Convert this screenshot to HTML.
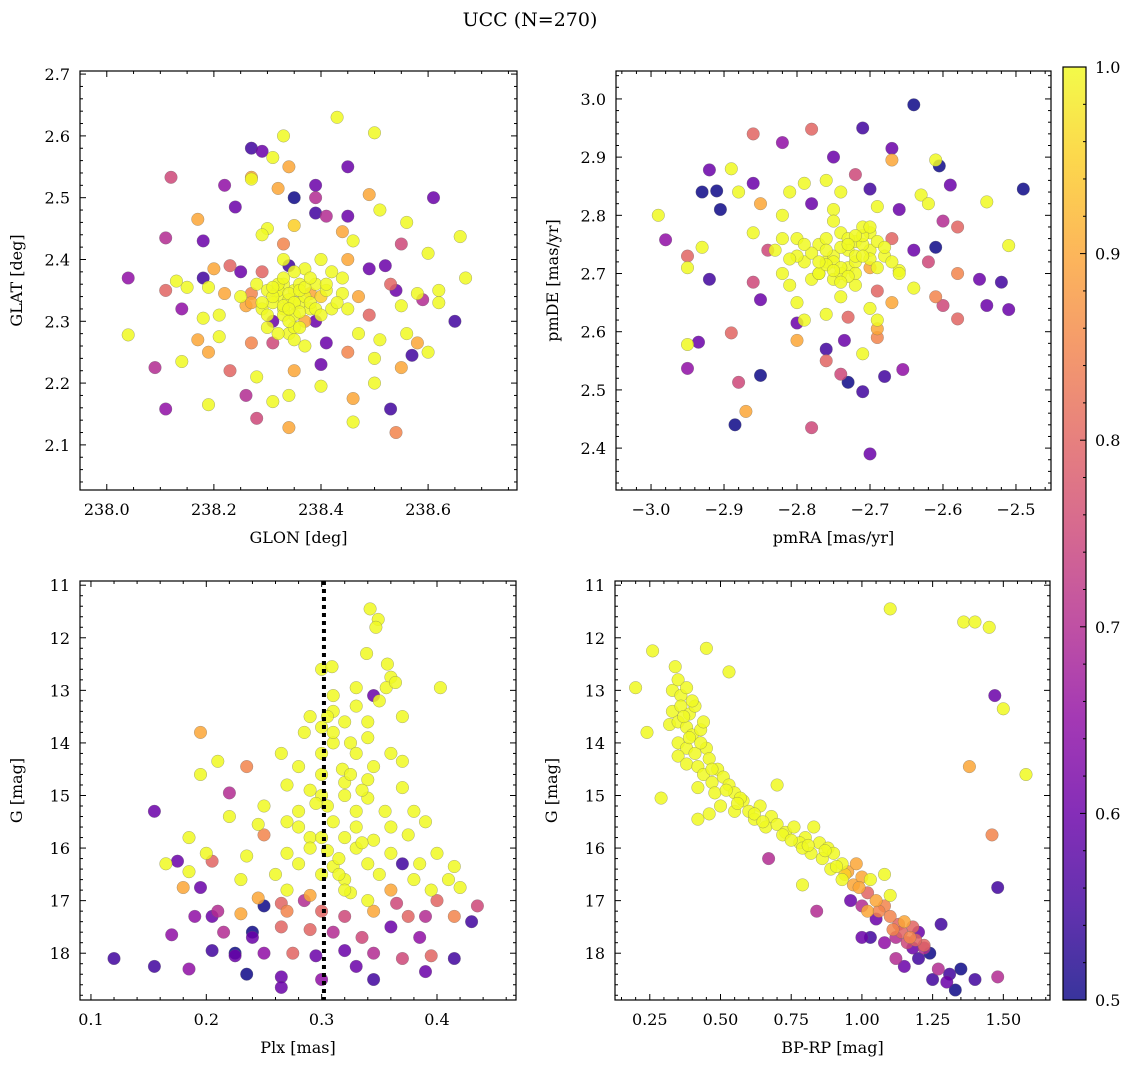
<!DOCTYPE html>
<html><head><meta charset="utf-8">
<style>
html,body{margin:0;padding:0;background:#fff;}
svg{display:block;font-family:"DejaVu Serif","Liberation Serif",serif;}
</style></head>
<body>
<svg id="fig" width="1136" height="1067" viewBox="0 0 1136 1067" xmlns="http://www.w3.org/2000/svg">
<text x="530" y="26" text-anchor="middle" font-size="19">UCC (N=270)</text>
<defs>
<linearGradient id="cbg" x1="0" y1="1" x2="0" y2="0">
<stop offset="0" stop-color="#0d0887"/><stop offset="0.1" stop-color="#41049d"/><stop offset="0.2" stop-color="#6a00a8"/><stop offset="0.3" stop-color="#8f0da4"/><stop offset="0.4" stop-color="#b12a90"/><stop offset="0.5" stop-color="#cc4778"/><stop offset="0.6" stop-color="#e16462"/><stop offset="0.7" stop-color="#f2844b"/><stop offset="0.8" stop-color="#fca636"/><stop offset="0.9" stop-color="#fcce25"/><stop offset="1" stop-color="#f0f921"/>
</linearGradient>
</defs>
</svg>
<script>
// Panel 1: GLON vs GLAT
const p1Lon=[238.43,238.50,238.33,238.27,238.29,238.31,238.12,238.27,238.27,238.34,238.45,238.22,238.39,238.32,238.49,238.35,238.24,238.39,238.61,238.51,238.17,238.39,238.41,238.45,238.56,238.30,238.35,238.44,238.29,238.33,238.11,238.18,238.46,238.55,238.66,238.04,238.13,238.18,238.20,238.23,238.25,238.29,238.34,238.37,238.40,238.45,238.49,238.52,238.60,238.67,238.11,238.15,238.19,238.22,238.27,238.30,238.33,238.35,238.38,238.41,238.44,238.47,238.53,238.54,238.58,238.62,238.14,238.18,238.21,238.26,238.29,238.31,238.33,238.35,238.37,238.39,238.42,238.45,238.49,238.55,238.59,238.62,238.65,238.04,238.17,238.21,238.27,238.31,238.34,238.37,238.41,238.47,238.51,238.56,238.58,238.60,238.09,238.14,238.19,238.23,238.28,238.35,238.40,238.45,238.50,238.55,238.57,238.19,238.26,238.31,238.34,238.40,238.46,238.50,238.11,238.28,238.34,238.46,238.53,238.54,238.32,238.34,238.36,238.31,238.33,238.36,238.38,238.35,238.30,238.39,238.42,238.28,238.40,
238.32,238.34,238.37,238.33,238.35,238.31,238.36,238.34,238.32,238.38,238.30,238.36,238.33,238.35,238.39,238.37,238.31,238.34,238.29,238.41,238.43,238.27,238.32,238.36,238.38,238.40,238.25,238.44,238.35,238.33];
const p1Lat=[2.63,2.605,2.60,2.58,2.575,2.565,2.533,2.533,2.53,2.55,2.55,2.52,2.52,2.515,2.505,2.50,2.485,2.50,2.50,2.48,2.465,2.475,2.47,2.47,2.46,2.45,2.455,2.445,2.44,2.425,2.435,2.43,2.43,2.425,2.437,2.37,2.365,2.37,2.385,2.39,2.38,2.38,2.39,2.385,2.40,2.40,2.385,2.39,2.41,2.37,2.35,2.355,2.355,2.345,2.345,2.35,2.36,2.35,2.345,2.35,2.345,2.34,2.36,2.35,2.345,2.35,2.32,2.305,2.31,2.325,2.32,2.30,2.32,2.31,2.30,2.30,2.32,2.32,2.31,2.325,2.335,2.33,2.30,2.278,2.27,2.275,2.265,2.265,2.28,2.26,2.265,2.28,2.27,2.28,2.265,2.25,2.225,2.235,2.25,2.22,2.21,2.22,2.23,2.25,2.24,2.225,2.245,2.165,2.18,2.17,2.18,2.195,2.175,2.20,2.158,2.143,2.128,2.137,2.158,2.12,2.34,2.335,2.33,2.33,2.31,2.36,2.32,2.29,2.29,2.36,2.38,2.36,2.34,
2.35,2.345,2.34,2.325,2.33,2.34,2.315,2.30,2.36,2.33,2.31,2.35,2.37,2.38,2.32,2.355,2.355,2.32,2.33,2.36,2.33,2.33,2.28,2.29,2.37,2.31,2.34,2.37,2.27,2.40];
const p1Prob=[1,1,1,0.55,0.6,1,0.75,0.9,1,0.9,0.6,0.65,0.6,0.9,0.9,0.5,0.6,0.7,0.6,1,0.9,0.55,0.7,0.6,1,1,0.95,0.9,1,0.85,0.7,0.6,1,0.75,1,0.65,1,0.55,0.9,0.8,0.6,0.8,0.55,1,1,0.9,0.6,0.6,1,1,0.8,1,1,0.9,0.85,1,1,1,0.9,1,1,0.9,0.8,0.6,1,1,0.65,1,1,0.9,1,0.6,1,1,0.9,0.6,1,1,0.8,1,0.7,1,0.55,1,0.9,1,0.85,0.75,1,1,0.6,1,1,1,0.9,1,0.7,1,0.9,0.8,1,0.9,0.6,0.85,1,0.9,0.55,1,0.7,1,1,1,0.9,1,0.65,0.75,0.9,1,0.55,0.85,1,1,1,1,1,1,1,1,1,1,1,1,0.95,
1,1,1,1,1,1,1,1,1,1,1,1,1,1,1,1,1,1,1,1,1,0.9,1,1,1,1,1,1,1,1];
// Panel 2: pmRA vs pmDE
const p2RA=[-2.64,-2.71,-2.82,-2.78,-2.86,-2.67,-2.61,-2.605,-2.75,-2.67,-2.92,-2.89,-2.86,-2.79,-2.76,-2.72,-2.59,-2.49,-2.93,-2.91,-2.88,-2.81,-2.74,-2.70,-2.63,-2.99,-2.905,-2.85,-2.82,-2.78,-2.75,-2.69,-2.66,-2.62,-2.60,-2.54,-2.98,-2.93,-2.86,-2.83,-2.80,-2.77,-2.74,-2.72,-2.70,-2.67,-2.64,-2.61,-2.58,-2.51,-2.95,-2.95,-2.92,-2.84,-2.82,-2.79,-2.76,-2.73,-2.70,-2.66,-2.62,-2.58,-2.86,-2.81,-2.78,-2.75,-2.72,-2.69,-2.64,-2.61,-2.55,-2.52,-2.85,-2.80,-2.74,-2.70,-2.67,-2.60,-2.54,-2.51,-2.79,-2.76,-2.73,-2.69,-2.58,-2.80,-2.89,-2.95,-2.80,-2.735,-2.69,-2.69,-2.935,-2.76,-2.71,-2.76,-2.95,-2.85,-2.74,-2.655,-2.68,-2.73,-2.88,-2.71,-2.87,-2.885,-2.78,-2.70,-2.75,-2.73,-2.71,-2.77,-2.74,-2.68,-2.72,-2.76,-2.70,-2.67,
-2.74,-2.72,-2.76,-2.73,-2.71,-2.75,-2.78,-2.70,-2.69,-2.77,-2.74,-2.72,-2.80,-2.68,-2.76,-2.73,-2.71,-2.79,-2.75,-2.70,-2.82,-2.66,-2.74,-2.72,-2.77,-2.69,-2.81,-2.73,-2.75,-2.71];
const p2DE=[2.99,2.95,2.925,2.948,2.94,2.915,2.895,2.885,2.90,2.895,2.878,2.88,2.855,2.855,2.86,2.87,2.852,2.845,2.84,2.842,2.84,2.84,2.84,2.845,2.835,2.80,2.81,2.82,2.80,2.82,2.81,2.815,2.81,2.82,2.79,2.823,2.758,2.745,2.77,2.74,2.76,2.75,2.77,2.755,2.74,2.76,2.74,2.745,2.78,2.748,2.73,2.71,2.69,2.74,2.70,2.72,2.72,2.71,2.71,2.705,2.72,2.70,2.685,2.68,2.69,2.69,2.68,2.67,2.675,2.66,2.69,2.685,2.655,2.65,2.66,2.64,2.65,2.645,2.645,2.638,2.62,2.63,2.625,2.62,2.622,2.615,2.598,2.578,2.585,2.585,2.59,2.605,2.582,2.57,2.562,2.55,2.537,2.525,2.527,2.535,2.523,2.513,2.513,2.497,2.463,2.44,2.435,2.39,2.73,2.74,2.75,2.70,2.70,2.73,2.72,2.76,2.77,2.72,
2.745,2.73,2.74,2.76,2.765,2.72,2.735,2.725,2.755,2.70,2.71,2.70,2.73,2.745,2.715,2.695,2.78,2.75,2.79,2.78,2.76,2.70,2.685,2.765,2.72,2.71,2.725,2.75,2.705,2.73];
const p2Prob=[0.5,0.55,0.65,0.8,0.8,0.6,1,0.5,0.6,0.9,0.6,1,0.6,1,1,0.75,0.6,0.5,0.5,0.5,1,1,1,0.55,1,1,0.5,0.9,1,0.6,1,1,0.6,1,0.7,1,0.65,1,1,1,1,1,1,1,1,0.8,0.6,0.5,0.8,1,0.8,1,0.55,0.75,1,1,1,1,0.9,1,0.75,0.85,0.75,1,1,1,1,0.8,1,0.85,0.6,0.55,0.6,1,1,1,0.9,0.75,0.6,0.6,1,1,0.8,1,0.8,0.6,0.8,1,0.9,0.6,0.85,0.9,0.6,0.55,1,0.8,0.65,0.5,0.75,0.65,0.55,0.5,0.75,0.55,0.9,0.5,0.75,0.6,1,1,1,1,1,1,1,1,1,1,
1,1,1,1,1,1,1,1,1,1,1,1,1,1,1,1,1,1,1,1,1,1,1,1,1,1,1,1,1,1];
// Panel 3: Plx vs G
const p3Plx=[0.342,0.349,0.347,0.30,0.309,0.339,0.357,0.36,0.356,0.33,0.31,0.345,0.364,0.403,0.31,0.33,0.35,0.29,0.32,0.34,0.37,0.30,0.285,0.34,0.31,0.325,0.195,0.265,0.30,0.33,0.36,0.37,0.28,0.318,0.345,0.21,0.235,0.195,0.30,0.27,0.29,0.32,0.34,0.37,0.22,0.30,0.32,0.34,0.25,0.28,0.305,0.33,0.355,0.38,0.155,0.22,0.245,0.27,0.31,0.33,0.36,0.39,0.25,0.29,0.32,0.345,0.375,0.185,0.20,0.235,0.27,0.305,0.33,0.36,0.40,0.165,0.175,0.205,0.28,0.31,0.34,0.37,0.385,0.415,0.185,0.23,0.26,0.30,0.32,0.35,0.38,0.41,0.18,0.195,0.27,0.29,0.325,0.36,0.395,0.42,0.245,0.265,0.285,0.34,0.365,0.40,0.435,0.21,0.23,0.25,0.27,0.30,0.32,0.345,0.375,0.39,0.415,0.19,0.17,0.215,0.24,0.265,0.29,0.31,0.335,0.36,0.385,0.43,0.205,0.225,0.25,0.275,0.295,0.32,0.345,0.37,0.395,0.12,0.155,0.185,0.235,0.265,0.30,0.33,0.345,0.39,0.415,0.265,0.24,0.225,0.205,
0.31,0.325,0.335,0.315,0.30,0.29,0.32,0.335,0.305,0.315,0.28,0.295];
const p3G=[11.45,11.65,11.8,12.6,12.55,12.3,12.5,12.75,12.95,12.95,13.1,13.1,12.85,12.95,13.4,13.3,13.2,13.5,13.6,13.6,13.5,13.7,13.8,13.9,14.0,14.0,13.8,14.2,14.2,14.2,14.2,14.35,14.45,14.5,14.45,14.35,14.45,14.6,14.6,14.8,14.9,14.75,14.7,14.85,14.95,15.0,15.0,15.05,15.2,15.3,15.2,15.3,15.3,15.3,15.3,15.4,15.55,15.5,15.5,15.6,15.6,15.5,15.75,15.8,15.8,15.85,15.75,15.8,16.1,16.15,16.1,16.05,16.0,16.1,16.1,16.3,16.25,16.25,16.3,16.35,16.3,16.3,16.3,16.35,16.45,16.6,16.5,16.5,16.6,16.5,16.6,16.6,16.75,16.75,16.8,16.9,16.85,16.8,16.8,16.75,16.95,17.05,17.0,17.0,17.05,17.0,17.1,17.2,17.25,17.1,17.2,17.2,17.3,17.2,17.3,17.3,17.3,17.3,17.65,17.6,17.7,17.5,17.55,17.6,17.7,17.5,17.7,17.4,17.95,18.05,18.0,18.0,18.05,17.95,18.0,18.1,18.05,18.1,18.25,18.3,18.4,18.45,18.5,18.25,18.5,18.35,18.1,18.65,17.6,18.0,17.3,
13.8,14.6,15.9,16.2,15.8,16.0,16.8,14.9,13.5,16.5,15.6,15.15];
const p3Prob=[1,1,1,1,1,1,1,1,1,1,1,0.6,1,1,1,1,1,1,1,1,1,1,1,1,1,1,0.9,1,1,1,1,1,1,1,1,1,0.85,1,1,1,1,1,1,1,0.7,1,1,1,1,1,1,1,1,1,0.6,1,1,1,1,1,1,1,0.85,1,1,1,1,1,1,1,1,1,1,1,1,1,0.6,0.8,1,1,1,0.55,1,1,1,1,1,1,1,1,1,1,0.9,0.6,1,0.9,1,0.9,1,1,0.9,0.8,0.7,1,0.75,0.8,0.75,0.7,0.9,0.5,0.85,0.8,0.75,0.9,0.8,0.7,0.85,0.65,0.65,0.7,0.6,0.8,0.8,0.7,0.75,0.6,0.65,0.55,0.55,0.6,0.65,0.8,0.6,0.6,0.7,0.75,0.8,0.55,0.55,0.65,0.5,0.6,0.65,0.6,0.55,0.6,0.55,0.6,0.5,0.5,0.6,
1,1,1,1,1,1,1,1,1,1,1,1];
// Panel 4: BP-RP vs G
const p4BR=[0.20,0.26,0.24,0.29,0.34,0.33,0.35,0.36,0.38,0.33,0.36,0.39,0.41,0.32,0.35,0.38,0.40,0.43,0.35,0.38,0.41,0.45,0.45,0.53,0.35,0.38,0.42,0.46,0.49,0.44,0.47,0.51,0.42,0.48,0.53,0.55,0.46,0.42,0.50,0.58,0.60,0.55,0.62,0.64,0.68,0.70,0.66,0.70,0.73,0.76,0.80,0.83,0.78,0.85,0.88,0.82,0.86,0.90,0.93,0.89,0.95,0.98,0.93,0.97,1.00,1.03,1.08,1.10,1.02,1.05,1.08,1.00,0.96,1.10,1.13,1.15,1.18,1.05,1.12,1.16,1.20,1.00,1.03,1.08,1.18,1.22,1.28,1.12,1.15,1.20,1.24,1.27,1.31,1.35,1.30,1.33,1.25,1.40,1.48,1.22,0.67,0.84,0.79,1.48,1.46,1.38,1.58,1.50,1.47,1.36,1.40,1.45,1.10,
0.37,0.39,0.43,0.47,0.52,0.57,0.62,0.65,0.72,0.75,0.79,0.81,0.87,0.91,0.94,0.99,1.02,1.06,1.11,1.14,1.17,1.19,0.40,0.44,0.56];
const p4G=[12.95,12.25,13.8,15.05,12.55,13.0,12.8,13.1,12.95,13.4,13.3,13.45,13.3,13.65,13.6,13.7,13.85,13.75,14.0,14.1,14.2,14.1,12.2,12.65,14.25,14.4,14.45,14.3,14.5,14.6,14.75,14.65,14.85,14.95,14.8,14.95,15.35,15.45,15.2,15.1,15.3,15.3,15.45,15.2,15.4,14.8,15.6,15.55,15.7,15.6,15.8,15.6,15.9,15.9,16.0,16.1,16.2,16.1,16.3,16.4,16.45,16.3,16.6,16.7,16.55,16.6,16.5,16.9,16.85,17.0,17.1,17.1,17.0,17.3,17.45,17.4,17.5,17.35,17.7,17.8,17.6,17.7,17.7,17.8,17.9,17.9,17.45,18.1,18.25,18.1,18.0,18.3,18.4,18.3,18.55,18.7,18.5,18.5,18.45,17.85,16.2,17.2,16.7,16.75,15.75,14.45,14.6,13.35,13.1,11.7,11.7,11.8,11.45,
13.5,13.9,14.0,14.5,14.9,15.05,15.35,15.5,15.75,15.85,16.0,15.95,16.05,16.35,16.5,16.75,17.2,17.2,17.55,17.6,17.7,17.75,13.2,13.6,15.15];
const p4Prob=[1,1,1,1,1,1,1,1,1,1,1,1,1,1,1,1,1,1,1,1,1,1,1,1,1,1,1,1,1,1,1,1,1,1,1,1,1,1,1,1,1,1,1,1,1,1,1,1,1,1,1,1,1,1,1,1,1,1,1,1,0.9,0.9,1,0.9,0.9,1,1,1,0.8,0.9,0.85,0.7,0.6,0.85,0.8,0.9,0.8,0.6,0.7,0.75,0.6,0.6,0.55,0.65,0.6,0.7,0.55,0.7,0.6,0.55,0.5,0.7,0.55,0.5,0.6,0.5,0.55,0.55,0.7,0.8,0.7,0.7,1,0.55,0.85,0.9,1,1,0.6,1,1,1,1,
1,1,1,1,1,1,1,1,1,1,1,1,1,1,0.95,0.9,0.9,0.85,0.85,0.8,0.85,0.8,1,1,1];
const cbTicks=[0.5,0.6,0.7,0.8,0.9,1.0];

const NS="http://www.w3.org/2000/svg";
const svg=document.getElementById('fig');
const stops=[[0,13,8,135],[0.1,65,4,157],[0.2,106,0,168],[0.3,143,13,164],[0.4,177,42,144],[0.5,204,71,120],[0.6,225,100,98],[0.7,242,132,75],[0.8,252,166,54],[0.9,252,206,37],[1,240,249,33]];
function plasma(v){let t=Math.max(0,Math.min(1,(v-0.5)/0.5));for(let i=1;i<stops.length;i++){if(t<=stops[i][0]){const a=stops[i-1],b=stops[i],f=(t-a[0])/(b[0]-a[0]);return `rgb(${Math.round(a[1]+f*(b[1]-a[1]))},${Math.round(a[2]+f*(b[2]-a[2]))},${Math.round(a[3]+f*(b[3]-a[3]))})`;}}return 'rgb(240,249,33)';}
function mk(tag,attrs,parent){const e=document.createElementNS(NS,tag);for(const k in attrs)e.setAttribute(k,attrs[k]);(parent||svg).appendChild(e);return e;}
function fmt(v,d){let s=v.toFixed(d);if(Math.abs(v)<1e-9)s=(0).toFixed(d);return s.replace('-','\u2212');}

function panel(o){
  const g=mk('g',{});
  
  
  const sx=v=>o.x0+(v-o.xmin)/(o.xmax-o.xmin)*(o.x1-o.x0);
  const sy=o.inv?(v=>o.y0+(v-o.ymin)/(o.ymax-o.ymin)*(o.y1-o.y0)):(v=>o.y1-(v-o.ymin)/(o.ymax-o.ymin)*(o.y1-o.y0));
  const idx=o.xs.map((_,i)=>i).sort((a,b)=>o.ps[a]-o.ps[b]);
  const pts=mk('g',{},g);
  
  
  idx.forEach(i=>{const c=mk('circle',{cx:sx(o.xs[i]).toFixed(1),cy:sy(o.ys[i]).toFixed(1),r:6.3,fill:plasma(o.ps[i]),'fill-opacity':0.85,stroke:'#666','stroke-width':0.4,'stroke-opacity':0.7},pts);
    
    });
  if(o.vline!==undefined){const l=mk('line',{x1:sx(o.vline),x2:sx(o.vline),y1:o.y0,y2:o.y1,stroke:'#000','stroke-width':4,'stroke-dasharray':'4,4'},g);
    
    }
  const fr=mk('rect',{x:o.x0,y:o.y0,width:o.x1-o.x0,height:o.y1-o.y0,fill:'none',stroke:'#000','stroke-width':1.2},g);
  
  
  const e=1e-9;
  for(let k=Math.ceil(o.xmin/o.xminor-e);k*o.xminor<=o.xmax+e;k++){const v=k*o.xminor;const px=sx(v);const isM=Math.abs(v/o.xmajor-Math.round(v/o.xmajor))<1e-6;const L=isM?6:3;
    mk('line',{x1:px,x2:px,y1:o.y1,y2:o.y1-L,stroke:'#000','stroke-width':1},g);mk('line',{x1:px,x2:px,y1:o.y0,y2:o.y0+L,stroke:'#000','stroke-width':1},g);
    if(isM){const t=mk('text',{x:px,y:o.y1+25,'text-anchor':'middle','font-size':16},g);t.textContent=fmt(v,o.xdec);
      
      }}
  for(let k=Math.ceil(o.ymin/o.yminor-e);k*o.yminor<=o.ymax+e;k++){const v=k*o.yminor;const py=sy(v);const isM=Math.abs(v/o.ymajor-Math.round(v/o.ymajor))<1e-6;const L=isM?6:3;
    mk('line',{x1:o.x0,x2:o.x0+L,y1:py,y2:py,stroke:'#000','stroke-width':1},g);mk('line',{x1:o.x1,x2:o.x1-L,y1:py,y2:py,stroke:'#000','stroke-width':1},g);
    if(isM){const t=mk('text',{x:o.x0-10,y:py+6,'text-anchor':'end','font-size':16},g);t.textContent=fmt(v,o.ydec);
      
      }}
  const xl=mk('text',{x:(o.x0+o.x1)/2,y:o.y1+53,'text-anchor':'middle','font-size':16},g);xl.textContent=o.xlabel;
  
  
  const yc=(o.y0+o.y1)/2, yx=o.x0-58;
  const yl=mk('text',{x:yx,y:yc,'text-anchor':'middle','font-size':16,transform:`rotate(-90 ${yx} ${yc})`},g);yl.textContent=o.ylabel;
  
  
}

panel({name:'panel-glon-glat',x0:80,x1:517,y0:71,y1:490,xmin:237.95,xmax:238.766,ymin:2.027,ymax:2.705,xmajor:0.2,xminor:0.05,ymajor:0.1,yminor:0.02,xdec:1,ydec:1,xs:p1Lon,ys:p1Lat,ps:p1Prob,xlabel:'GLON [deg]',ylabel:'GLAT [deg]'});
panel({name:'panel-pmra-pmde',x0:616,x1:1051,y0:71,y1:490,xmin:-3.048,xmax:-2.452,ymin:2.328,ymax:3.048,xmajor:0.1,xminor:0.02,ymajor:0.1,yminor:0.02,xdec:1,ydec:1,xs:p2RA,ys:p2DE,ps:p2Prob,xlabel:'pmRA [mas/yr]',ylabel:'pmDE [mas/yr]'});
panel({name:'panel-plx-g',x0:80,x1:516,y0:581,y1:1000,xmin:0.0905,xmax:0.4685,ymin:10.92,ymax:18.89,inv:true,xmajor:0.1,xminor:0.02,ymajor:1,yminor:0.2,xdec:1,ydec:0,xs:p3Plx,ys:p3G,ps:p3Prob,vline:0.302,xlabel:'Plx [mas]',ylabel:'G [mag]'});
panel({name:'panel-bprp-g',x0:615,x1:1050,y0:581,y1:1000,xmin:0.127,xmax:1.665,ymin:10.92,ymax:18.89,inv:true,xmajor:0.25,xminor:0.05,ymajor:1,yminor:0.2,xdec:2,ydec:0,xs:p4BR,ys:p4G,ps:p4Prob,xlabel:'BP-RP [mag]',ylabel:'G [mag]'});

// colorbar
const cb=mk('g',{});


const cy0=67,cy1=1000,cx0=1063,cx1=1086;
const r=mk('rect',{x:cx0,y:cy0,width:cx1-cx0,height:cy1-cy0,fill:'url(#cbg)','fill-opacity':0.82,stroke:'#000','stroke-width':1.2},cb);


const cys=v=>cy1-(v-0.5)/0.5*(cy1-cy0);
for(let k=0;k<=25;k++){const v=0.5+k*0.02;const py=cys(v);const isM=k%5===0;const L=isM?6:3;
  mk('line',{x1:cx1,x2:cx1-L,y1:py,y2:py,stroke:'#000','stroke-width':1},cb);}
cbTicks.forEach(v=>{const t=mk('text',{x:cx1+9,y:cys(v)+6,'font-size':16},cb);t.textContent=v.toFixed(1);
  
  });
</script>
</body></html>
